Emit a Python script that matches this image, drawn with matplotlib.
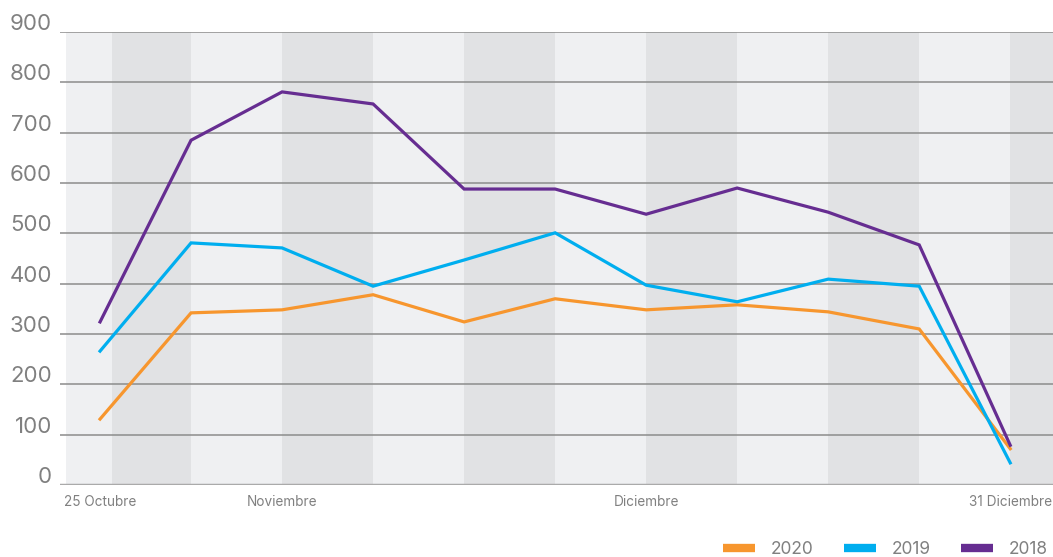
import numpy as np
import matplotlib.pyplot as plt
from matplotlib.lines import Line2D

plt.rcParams['font.family'] = ['Inter', 'DejaVu Sans']

# datos (puntos semanales del 25 Oct al 31 Dic)
puntos = list(range(11))
v2020 = [131, 342, 348, 378, 324, 370, 348, 358, 344, 310, 72]
v2019 = [266, 481, 471, 395, 447, 501, 397, 364, 409, 395, 44]
v2018 = [324, 685, 781, 757, 588, 588, 538, 590, 542, 477, 79]

xtick_pos = [0, 2, 6, 10]
xtick_labels = ['25 Octubre', 'Noviembre', 'Diciembre', '31 Diciembre']
yticks = [0, 100, 200, 300, 400, 500, 600, 700, 800, 900]

# franjas de fondo (bordes en coordenadas x)
band_edges = [-0.37, 0.13, 1, 2, 3, 4, 5, 6, 7, 8, 9, 10, 10.5]

c2020 = '#F7962E'
c2019 = '#00AEEF'
c2018 = '#662D91'
light = '#EFF0F2'
dark = '#E1E2E4'
txt_gray = '#808080'

fig = plt.figure(figsize=(10.53, 5.57), dpi=100)
ax = fig.add_axes([60 / 1053, 72 / 557, 1 - 60 / 1053, (485 - 32) / 557])

for i in range(len(band_edges) - 1):
    col = light if i % 2 == 0 else dark
    ax.axvspan(band_edges[i], band_edges[i + 1], color=col, lw=0, zorder=0)

for y in yticks[1:]:
    ax.axhline(y, color='#8C8C8C', lw=1.1, zorder=1)
ax.axhline(0, color='#AAAAAA', lw=2.5, zorder=1)

ax.plot(puntos, v2020, color=c2020, lw=2.3, zorder=3, solid_joinstyle='miter')
ax.plot(puntos, v2019, color=c2019, lw=2.3, zorder=3, solid_joinstyle='miter')
ax.plot(puntos, v2018, color=c2018, lw=2.3, zorder=3, solid_joinstyle='miter')

ax.set_xlim(-0.44, 10.47)
ax.set_ylim(0, 900)
for s in ax.spines.values():
    s.set_visible(False)

ax.set_yticks([])
for y in yticks:
    ax.text(-0.008, y + 4, str(y), transform=ax.get_yaxis_transform(),
            ha='right', va='baseline', fontsize=16, color=txt_gray)

ax.set_xticks(xtick_pos)
ax.set_xticklabels(xtick_labels, fontsize=9.8, color=txt_gray)
ax.tick_params(axis='x', length=0, pad=7)
labs = ax.get_xticklabels()
labs[0].set_ha('center')
labs[-1].set_ha('center')

handles = [Line2D([], [], color=c, lw=6, solid_capstyle='butt') for c in (c2020, c2019, c2018)]
fig.legend(handles, ['2020', '2019', '2018'], ncol=3, loc='lower right',
           bbox_to_anchor=(1.01, -0.03), frameon=False, fontsize=12.5,
           labelcolor=txt_gray, handlelength=1.85, handletextpad=0.9,
           columnspacing=1.75)

fig.savefig('out.png', dpi=100)
